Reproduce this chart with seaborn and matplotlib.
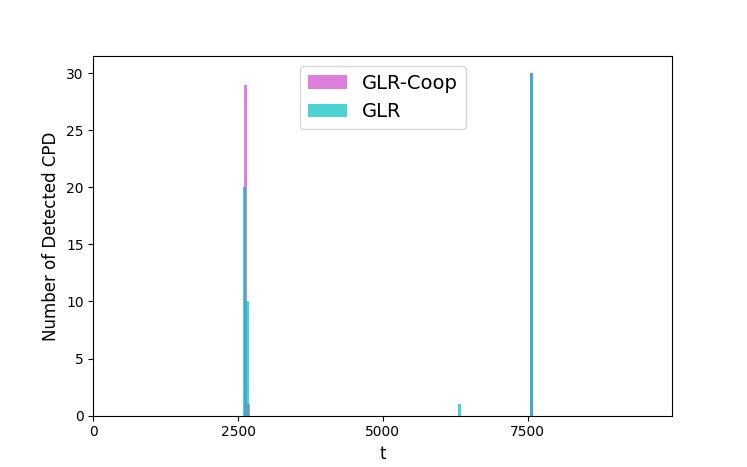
import numpy as np
import pandas as pd
import seaborn as sns
import matplotlib
matplotlib.use("Agg")
import matplotlib.pyplot as plt

# detected change points: time t and how many runs detected it there
coop_t = [2620, 2680, 7560]
coop_n = [29, 1, 30]
glr_t = [2610, 2660, 6320, 7570]
glr_n = [20, 10, 1, 30]

fig, ax = plt.subplots(figsize=(7.47, 4.67), dpi=100)

sns.histplot(x=coop_t, weights=coop_n, binwidth=54.8, binrange=(2600, 7650),
             color='m', alpha=0.5, linewidth=0, label='GLR-Coop', ax=ax)
sns.histplot(x=glr_t, weights=glr_n, binwidth=52.2, binrange=(2585, 7650),
             color='c', alpha=0.7, linewidth=0, label='GLR', ax=ax)

ax.set_xlim(0, 10000)
ax.set_ylim(0, 31.5)
ax.set_xticks([0, 2500, 5000, 7500])
ax.set_xlabel('t', fontsize=12)
ax.set_ylabel('Number of Detected CPD', fontsize=12)
ax.legend(loc='upper center', fontsize=14)

plt.savefig('out.png', dpi=100)
plt.close()
